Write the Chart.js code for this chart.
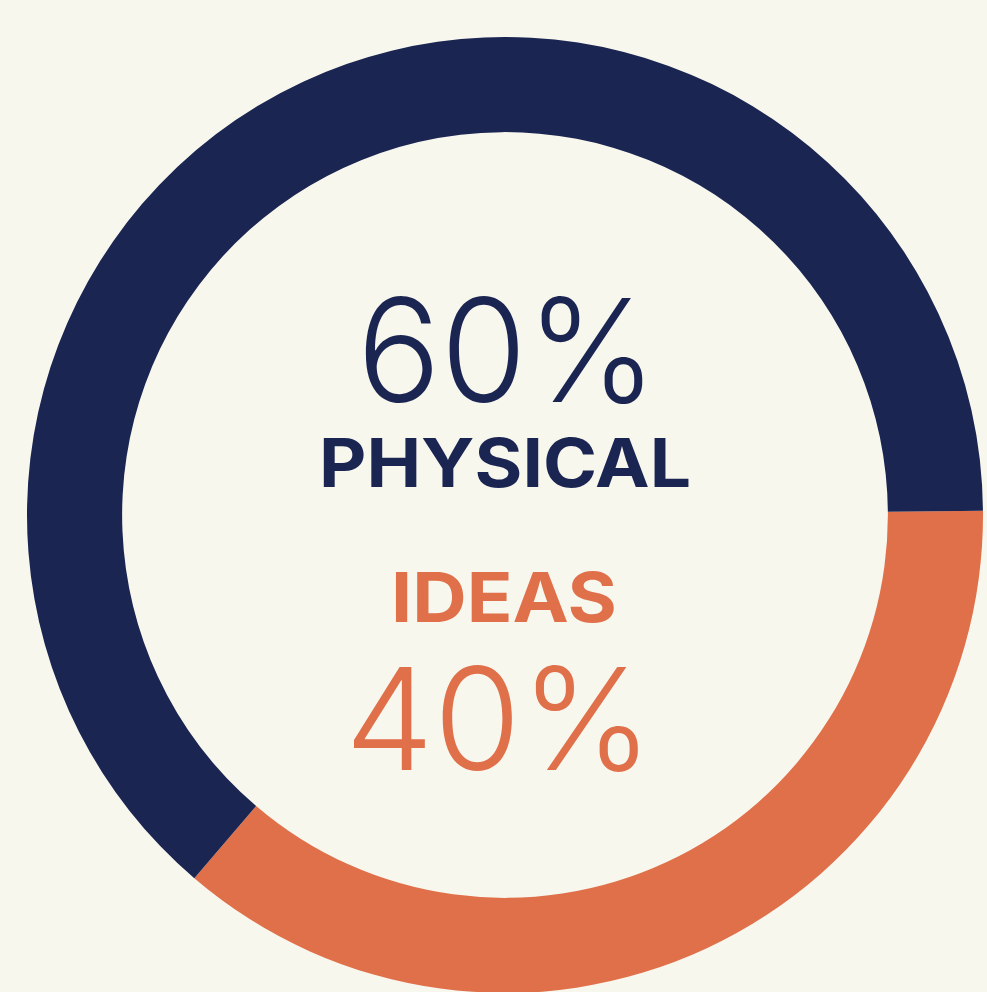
<!DOCTYPE html>
<html>
<head>
<meta charset="utf-8">
<script src="https://cdn.jsdelivr.net/npm/chart.js@4"></script>
<style>
  html, body { margin: 0; padding: 0; width: 987px; height: 992px; overflow: hidden; background: #f8f7ee; }
  #wrap { position: absolute; left: 27px; top: 37px; width: 956px; height: 956px; }
</style>
</head>
<body>
<div id="wrap"><canvas id="ring"></canvas></div>
<script>
// arc shares as drawn in the picture (ideas first, starting at 3 o'clock)
const categories = ['Ideas', 'Physical'];
const arcShares = [36.4, 63.6];
const percentLabels = ['40%', '60%'];
const nameLabels = ['IDEAS', 'PHYSICAL'];

const NAVY = '#1b2552';
const ORANGE = '#e0704a';

// draw text so that its cap height and width hit the given sizes
function drawFitted(ctx, text, weight, family, cap, width, cx, baseline, color) {
    ctx.font = weight + ' 100px ' + family;
    const m = ctx.measureText(text);
    const size = 100 * cap / m.actualBoundingBoxAscent;
    ctx.font = weight + ' ' + size + 'px ' + family;
    const w = ctx.measureText(text).width;
    ctx.save();
    ctx.translate(cx, baseline);
    ctx.scale(width / w, 1);
    ctx.fillStyle = color;
    ctx.textAlign = 'center';
    ctx.textBaseline = 'alphabetic';
    ctx.fillText(text, 0, 0);
    ctx.restore();
}

const centerText = {
    id: 'centerText',
    afterDraw(chart) {
        const ctx = chart.ctx;
        const a = chart.chartArea;
        const cx = (a.left + a.right) / 2;
        const cy = (a.top + a.bottom) / 2;
        drawFitted(ctx, percentLabels[1], '300', 'Inter, Lato, sans-serif', 106, 300, cx + 2, cy - 113, NAVY);
        drawFitted(ctx, nameLabels[1], '700', 'Inter, Lato, sans-serif', 50, 372, cx, cy - 28, NAVY);
        drawFitted(ctx, nameLabels[0], '700', 'Inter, Lato, sans-serif', 51, 226, cx - 1, cy + 107, ORANGE);
        drawFitted(ctx, percentLabels[0], '300', 'Inter, Lato, sans-serif', 105, 308, cx - 6, cy + 255, ORANGE);
    }
};

new Chart(document.getElementById('ring'), {
    type: 'doughnut',
    data: {
        labels: categories,
        datasets: [{
            data: arcShares,
            backgroundColor: [ORANGE, NAVY],
            borderWidth: 0
        }]
    },
    options: {
        responsive: true,
        maintainAspectRatio: false,
        animation: false,
        cutout: '80.1%',
        rotation: 89.5,
        layout: { padding: 0 },
        plugins: {
            legend: { display: false },
            tooltip: { enabled: false }
        }
    },
    plugins: [centerText]
});
</script>
</body>
</html>
